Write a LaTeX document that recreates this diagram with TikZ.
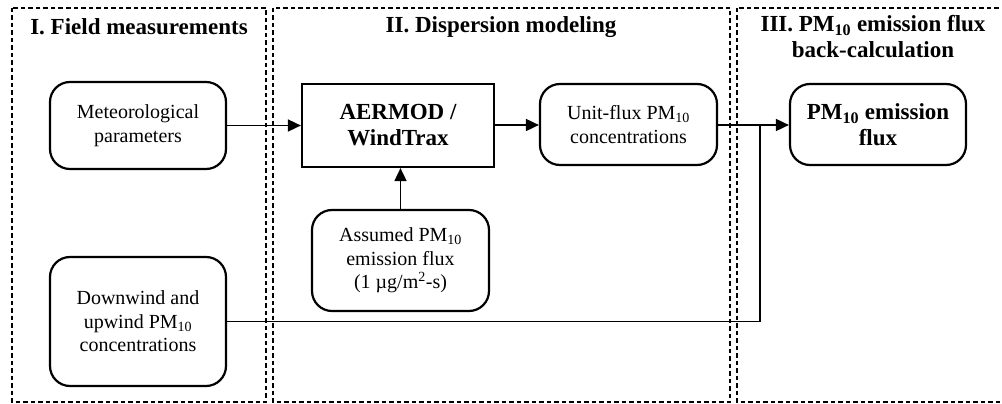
\documentclass[tikz,border=0pt]{standalone}
\usepackage{fontspec}
\setmainfont{Liberation Serif}
\usetikzlibrary{arrows.meta}
\begin{document}
\begin{tikzpicture}[x=1pt,y=-1pt,
  panel/.style={draw, dashed, dash pattern=on 4.5pt off 3pt, line width=1.4pt},
  title/.style={font=\fontsize{23}{26}\selectfont\bfseries, align=center, inner sep=0pt},
  rbox/.style={draw, line width=2.2pt, rounded corners=20pt, align=center, font=\fontsize{20}{23.5}\selectfont, inner sep=0pt},
  sbox/.style={draw, line width=2.2pt, align=center, font=\fontsize{23}{26}\selectfont\bfseries, inner sep=0pt},
  conn/.style={line width=1.7pt},
  arr/.style={conn, -{Triangle[length=13pt,width=12pt]}}]
\useasboundingbox (0,0) rectangle (1002,404);
\clip (0,0) rectangle (1002,404);
% panels
\draw[panel] (12,8) rectangle (266,402);
\draw[panel] (273,8) rectangle (730,402);
\draw[panel] (737,8) rectangle (1010,402);
% titles
\node[title] (t1) at (139,27) {I. Field measurements};
\node[title] (t2) at (501,27) {II. Dispersion modeling};
\node[title, anchor=north] (t3) at (873,15) {III. PM\textsubscript{10} emission flux\\back-calculation};
% nodes
\node[rbox, minimum width=176pt, minimum height=87pt] (met) at (138,125.5) {Meteorological\\parameters};
\node[sbox, minimum width=192pt, minimum height=83pt] (aer) at (398,125.5) {AERMOD /\\WindTrax};
\node[rbox, minimum width=177pt, minimum height=81pt] (uni) at (628.5,124.5) {Unit-flux PM\textsubscript{10}\\concentrations};
\node[rbox, minimum width=176pt, minimum height=81pt, font=\fontsize{23}{26}\selectfont\bfseries] (pm) at (878,124.5) {PM\textsubscript{10} emission\\flux};
\node[rbox, minimum width=177pt, minimum height=101pt] (ass) at (400.5,260.5) {Assumed PM\textsubscript{10}\\emission flux\\(1 µg/m\textsuperscript{2}-s)};
\node[rbox, minimum width=176pt, minimum height=129pt] (down) at (138,321.5) {Downwind and\\upwind PM\textsubscript{10}\\concentrations};
\coordinate (j) at (760,125);
% connectors
\draw[arr] (met.east |- 0,125.5) -- (aer.west |- 0,125.5);
\draw[arr] (aer.east |- 0,125) -- (uni.west |- 0,125);
\draw[arr] (uni.east |- 0,125) -- (pm.west |- 0,125);
\draw[arr] (ass.north) -- (ass.north |- aer.south);
\draw[conn] (down.east) -| (j);
\end{tikzpicture}
\end{document}
